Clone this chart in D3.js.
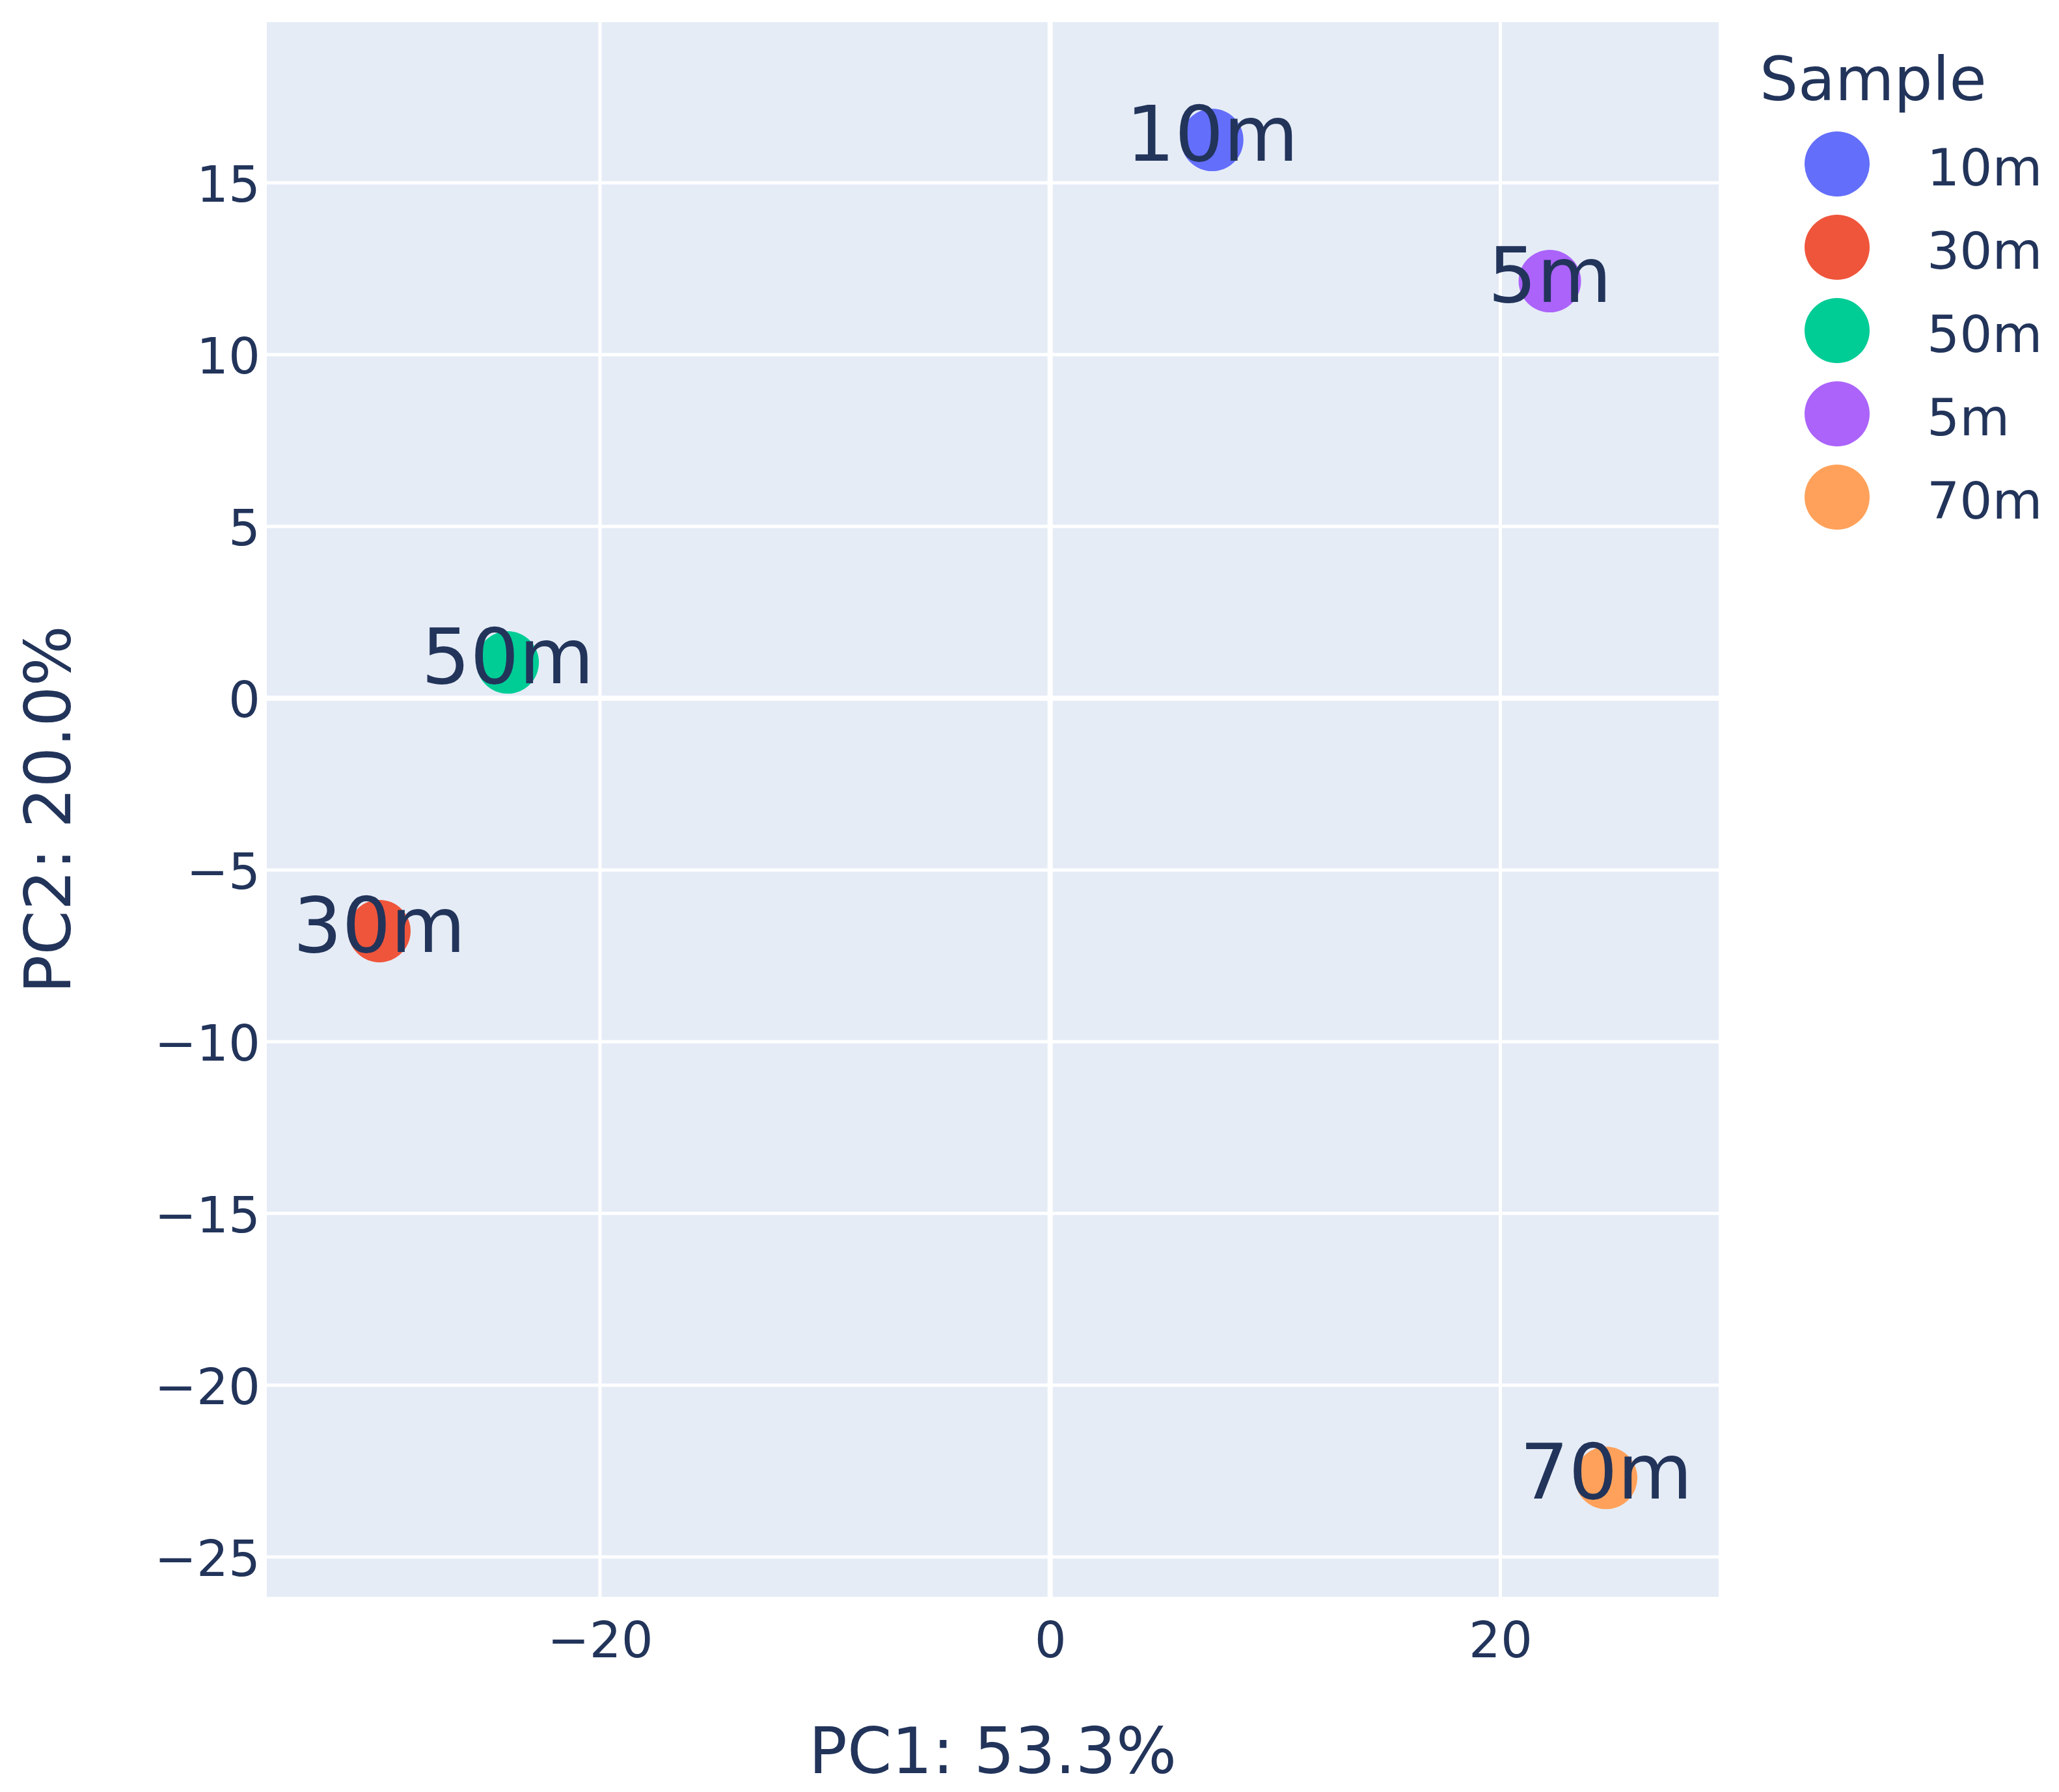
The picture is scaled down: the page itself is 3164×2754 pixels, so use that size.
<!DOCTYPE html>
<html>
<head>
<meta charset="utf-8">
<script src="https://cdn.jsdelivr.net/npm/d3@7"></script>
<style>
  html, body { margin: 0; padding: 0; background: #fff; }
  text { font-family: "DejaVu Sans", Verdana, sans-serif; fill: #22345a; }
</style>
</head>
<body>
<svg id="chart"></svg>
<script>
// sample scores on the first two principal components
const samples = ["10m", "30m", "50m", "5m", "70m"];
const pc1 = [7.2, -29.8, -24.1, 22.2, 24.7];
const pc2 = [16.25, -6.78, 1.04, 12.14, -22.7];
const colors = ["#636efa", "#EF553B", "#00cc96", "#ab63fa", "#FFA15A"];
const xTicks = [-20, 0, 20];
const yTicks = [-25, -20, -15, -10, -5, 0, 5, 10, 15];
const xTitle = "PC1: 53.3%";
const yTitle = "PC2: 20.0%";
const legendTitle = "Sample";

const W = 3164, H = 2754;
const plot = { left: 410, right: 2641, top: 34, bottom: 2454 };
const ink = "#22345a";

const svg = d3.select("#chart").attr("width", W).attr("height", H);

const x = d3.scaleLinear().domain([-34.8, 29.7]).range([plot.left, plot.right]);
const y = d3.scaleLinear().domain([-26.16, 19.68]).range([plot.bottom, plot.top]);
const color = d3.scaleOrdinal().domain(samples).range(colors);

// plot background
svg.append("rect")
  .attr("x", plot.left).attr("y", plot.top)
  .attr("width", plot.right - plot.left).attr("height", plot.bottom - plot.top)
  .attr("fill", "#E5ECF6");

// grid lines
svg.append("g").selectAll("line").data(xTicks).join("line")
  .attr("x1", d => x(d)).attr("x2", d => x(d))
  .attr("y1", plot.top).attr("y2", plot.bottom)
  .attr("stroke", "#fff").attr("stroke-width", d => d === 0 ? 8 : 5);

svg.append("g").selectAll("line").data(yTicks).join("line")
  .attr("x1", plot.left).attr("x2", plot.right)
  .attr("y1", d => y(d)).attr("y2", d => y(d))
  .attr("stroke", "#fff").attr("stroke-width", d => d === 0 ? 8 : 5);

// axes (labels only, no domain line or tick marks)
const xAxis = svg.append("g")
  .attr("transform", `translate(0,${plot.bottom})`)
  .call(d3.axisBottom(x).tickValues(xTicks).tickSize(0).tickPadding(0));
xAxis.select(".domain").remove();
xAxis.selectAll("text")
  .attr("y", 93).attr("dy", 0)
  .style("font-size", "77px").attr("fill", ink);

const yAxis = svg.append("g")
  .attr("transform", `translate(${plot.left},0)`)
  .call(d3.axisLeft(y).tickValues(yTicks).tickSize(0).tickPadding(10));
yAxis.select(".domain").remove();
yAxis.selectAll("text")
  .attr("dy", "0.37em")
  .style("font-size", "77px").attr("fill", ink);

// axis titles
svg.append("text")
  .attr("x", (plot.left + plot.right) / 2).attr("y", 2725)
  .attr("text-anchor", "middle")
  .style("font-size", "98px")
  .text(xTitle);

svg.append("text")
  .attr("transform", `translate(108,${(plot.top + plot.bottom) / 2}) rotate(-90)`)
  .attr("text-anchor", "middle")
  .style("font-size", "98px")
  .text(yTitle);

// points
const pts = samples.map((s, i) => ({ name: s, x: pc1[i], y: pc2[i] }));

svg.append("g").selectAll("circle").data(pts).join("circle")
  .attr("cx", d => x(d.x)).attr("cy", d => y(d.y))
  .attr("r", 48)
  .attr("fill", d => color(d.name));

svg.append("g").selectAll("text").data(pts).join("text")
  .attr("x", d => x(d.x)).attr("y", d => y(d.y))
  .attr("dy", "0.27em")
  .attr("text-anchor", "middle")
  .style("font-size", "118px")
  .text(d => d.name);

// legend
const legend = svg.append("g");
legend.append("text")
  .attr("x", 2704).attr("y", 154)
  .style("font-size", "93px")
  .text(legendTitle);

const items = legend.selectAll("g.item").data(samples).join("g")
  .attr("class", "item")
  .attr("transform", (d, i) => `translate(0,${252 + i * 128})`);

items.append("circle")
  .attr("cx", 2823).attr("cy", 0).attr("r", 50)
  .attr("fill", d => color(d));

items.append("text")
  .attr("x", 2961).attr("y", 0).attr("dy", "0.42em")
  .style("font-size", "79px")
  .text(d => d);
</script>
</body>
</html>
